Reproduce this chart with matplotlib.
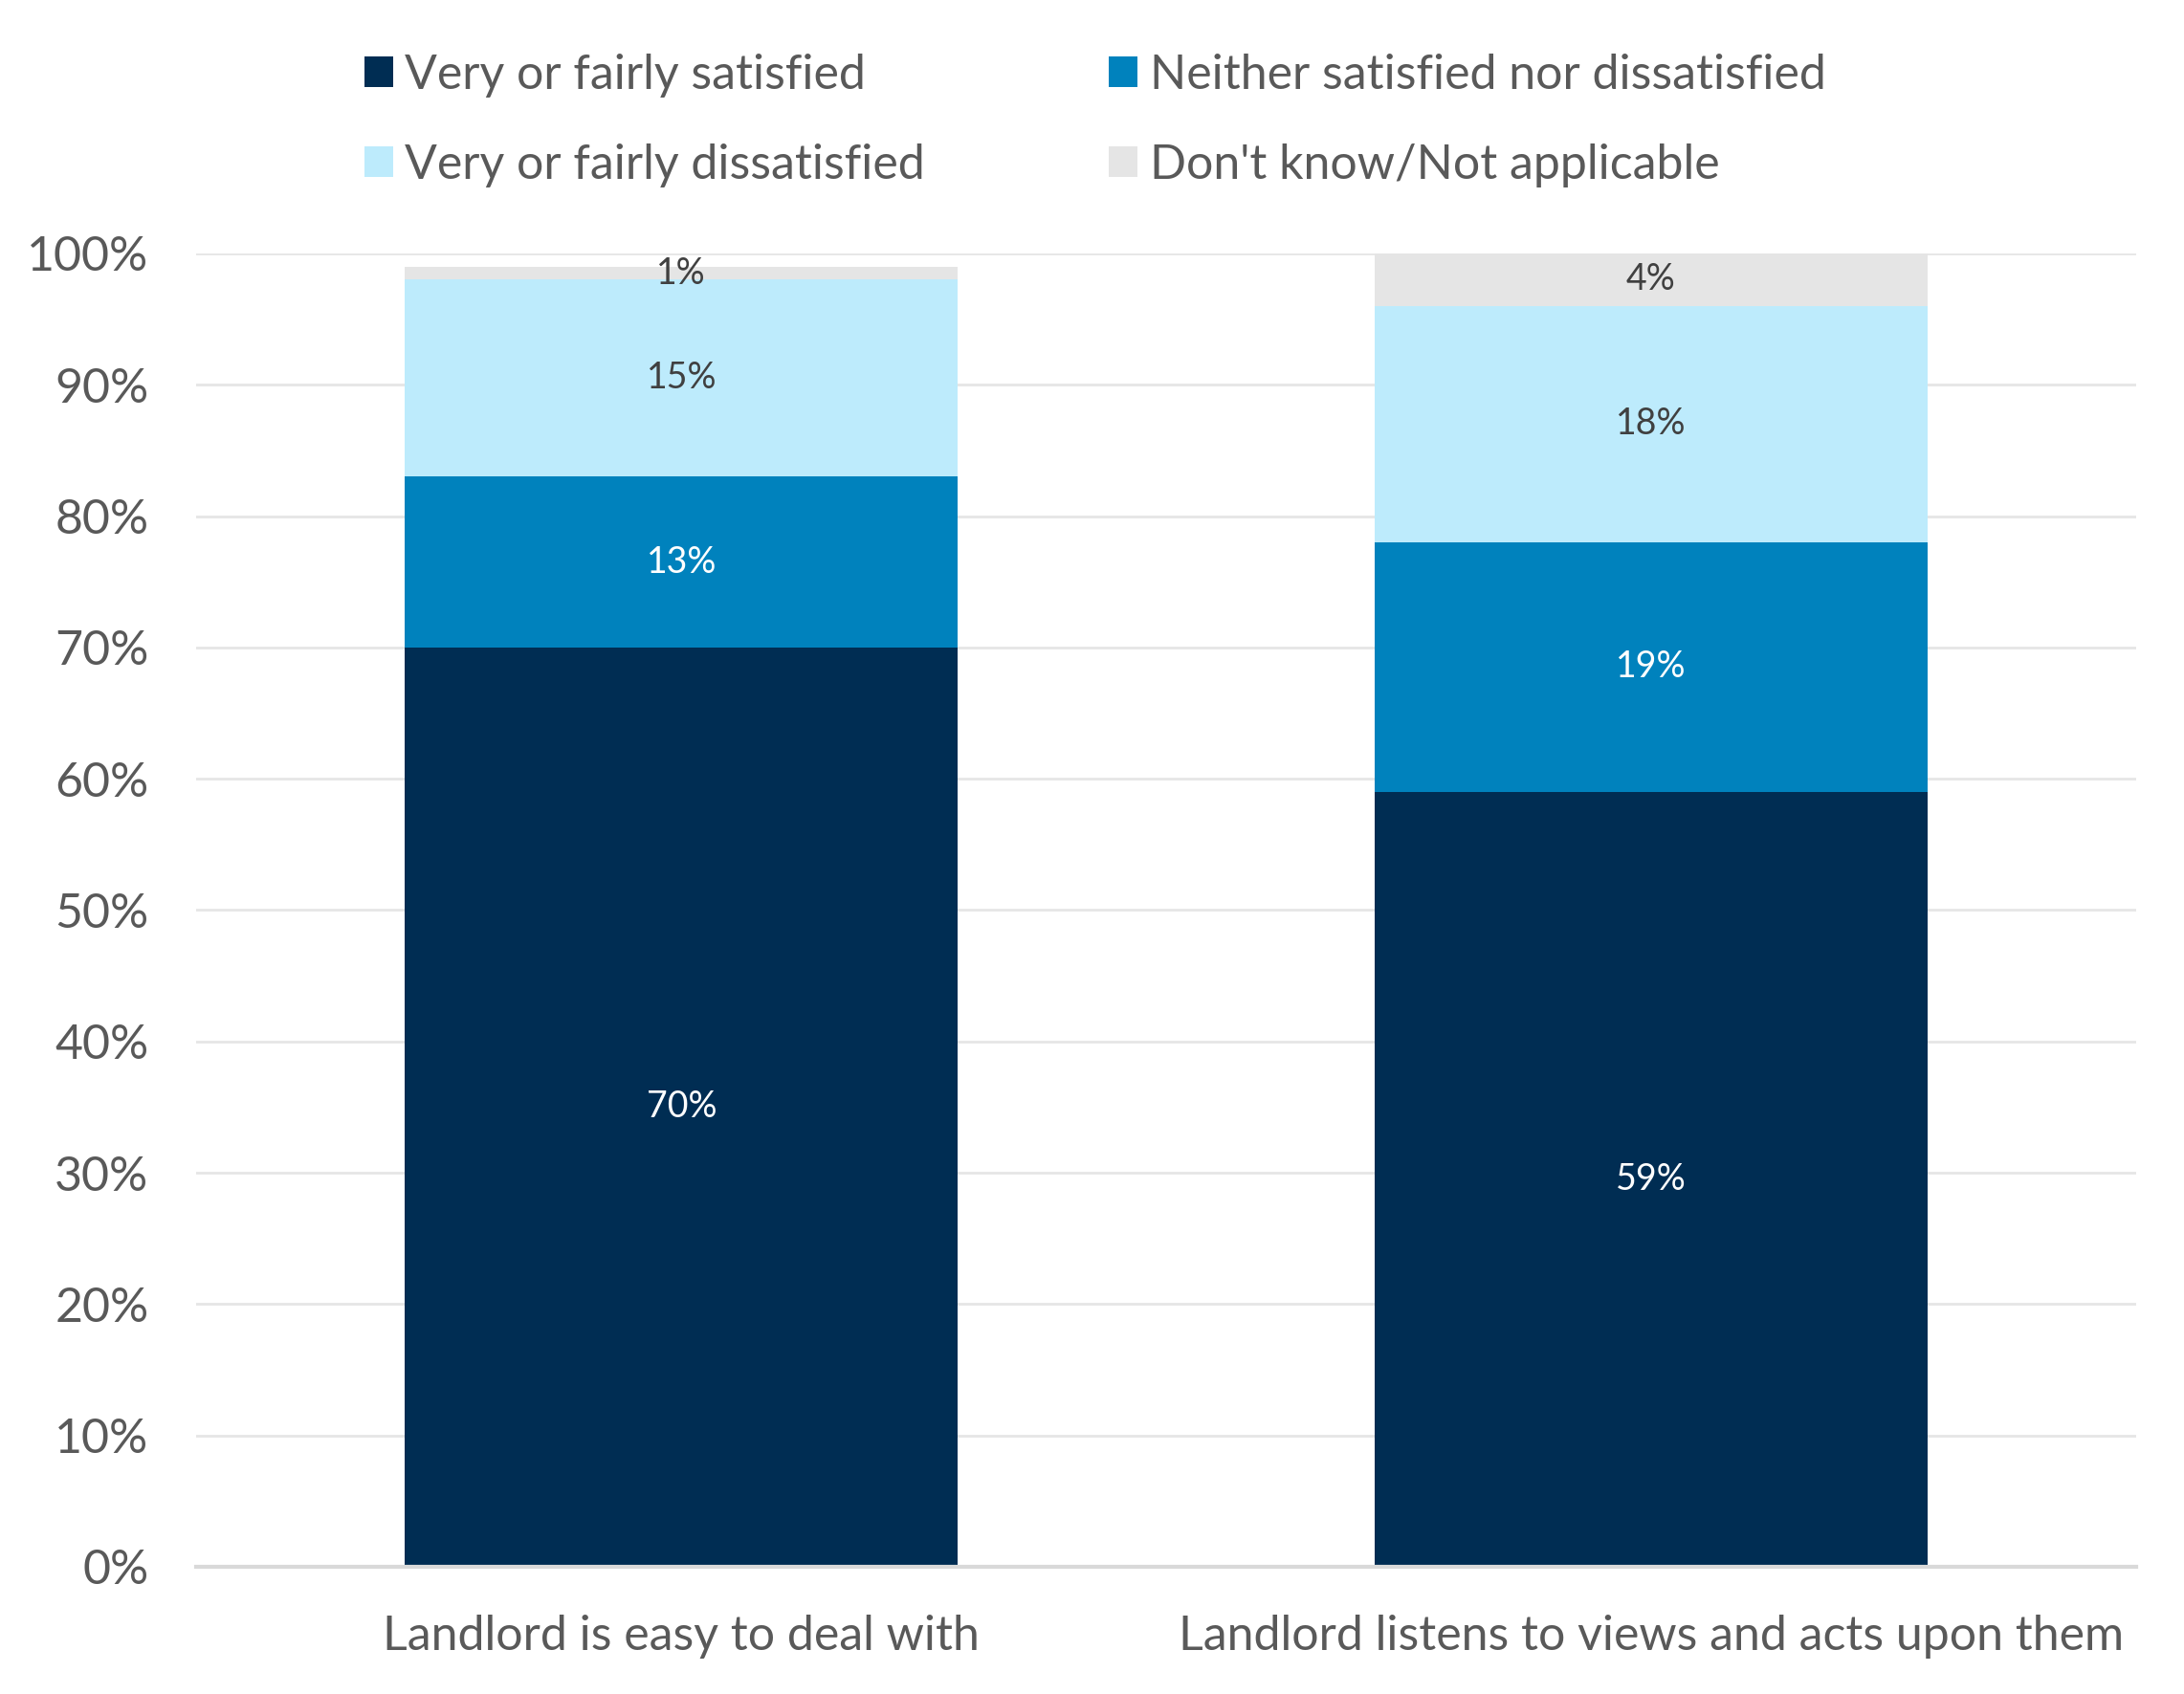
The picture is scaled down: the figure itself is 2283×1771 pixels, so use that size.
import matplotlib.pyplot as plt
import numpy as np

plt.rcParams["font.family"] = ["Lato", "DejaVu Sans"]

categories = ["Landlord is easy to deal with", "Landlord listens to views and acts upon them"]
series_names = ["Very or fairly satisfied", "Neither satisfied nor dissatisfied",
                "Very or fairly dissatisfied", "Don't know/Not applicable"]
satisfied = [70, 59]
neither = [13, 19]
dissatisfied = [15, 18]
dont_know = [1, 4]
y_ticks = [0, 10, 20, 30, 40, 50, 60, 70, 80, 90, 100]

values = [satisfied, neither, dissatisfied, dont_know]
colors = ["#002D53", "#0082BD", "#BDEBFC", "#E5E5E5"]
label_colors = ["white", "white", "#404040", "#404040"]

fig = plt.figure(figsize=(22.83, 17.71), dpi=100)
ax = fig.add_axes([0.0900, 0.0751, 0.8880, 0.7753])

x = np.arange(len(categories))
bottom = np.zeros(len(categories))
handles = []
for vals, name, col, lcol in zip(values, series_names, colors, label_colors):
    bars = ax.bar(x, vals, width=0.570, bottom=bottom, color=col, label=name, zorder=2)
    ax.bar_label(bars, labels=[f"{v}%" for v in vals], label_type="center",
                 color=lcol, fontsize=27)
    handles.append(bars)
    bottom += np.array(vals)

ax.set_xlim(-0.5, 1.5)
ax.set_ylim(0, 100)
ax.set_yticks(y_ticks)
ax.set_yticklabels([f"{t}%" for t in y_ticks])
ax.set_xticks(x)
ax.set_xticklabels(categories)
ax.tick_params(axis="y", length=0, pad=36, labelsize=36, labelcolor="#595959")
ax.tick_params(axis="x", length=0, pad=36, labelsize=36, labelcolor="#595959")
ax.grid(axis="y", color="#E6E6E6", linewidth=2, zorder=0)
for s in ["top", "right", "left"]:
    ax.spines[s].set_visible(False)
ax.spines["bottom"].set_color("#D9D9D9")
ax.spines["bottom"].set_linewidth(3)

# legend reads row by row in the original
order = [0, 2, 1, 3]
fig.legend([handles[i] for i in order], [series_names[i] for i in order],
           loc="upper left", bbox_to_anchor=(0.147, 0.994), ncol=2, frameon=False,
           fontsize=36, labelcolor="#595959", handlelength=0.6, handleheight=0.6,
           handletextpad=0.25, columnspacing=3.85, labelspacing=0.96)

fig.savefig("out.png", dpi=100)
